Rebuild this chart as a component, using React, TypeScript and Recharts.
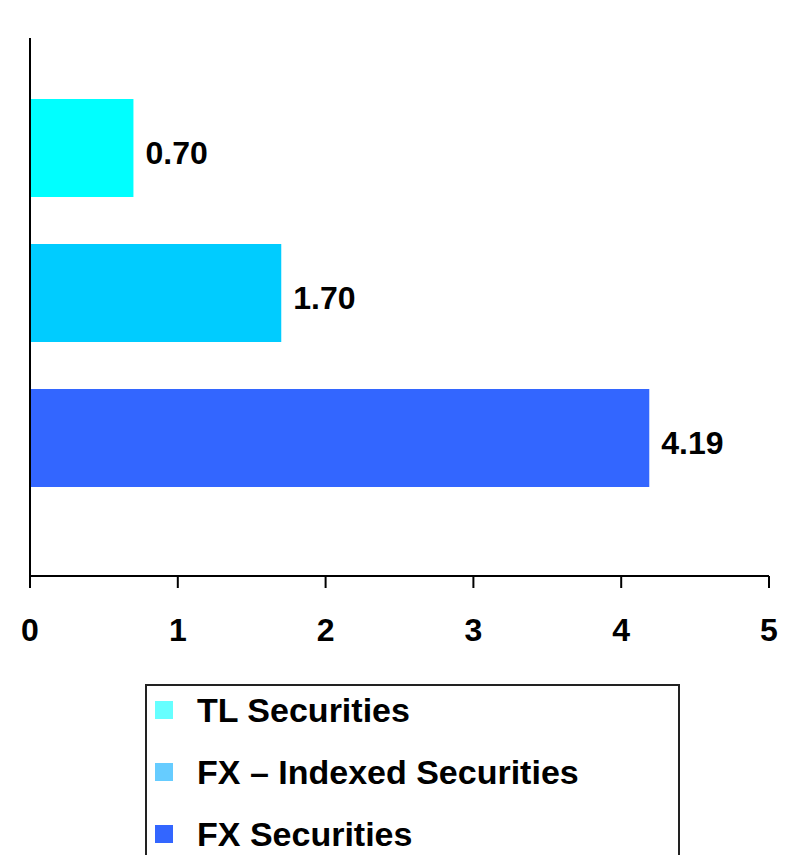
import { BarChart, Bar, XAxis, YAxis, Cell, LabelList } from "recharts";

const categories = ["TL Securities", "FX – Indexed Securities", "FX Securities"];
const values = [0.7, 1.7, 4.19];
const barColors = ["#00FFFF", "#00CCFF", "#3366FF"];
const legendColors = ["#66FFFF", "#66CCFF", "#3366FF"];
const xTicks = [0, 1, 2, 3, 4, 5];

const data = categories.map((name, i) => ({ name, value: values[i] }));

const font = "'Liberation Sans', Arial, sans-serif";

export default function App() {
  return (
    <div style={{ position: "absolute", left: 0, top: 0, width: 796, height: 855, overflow: "hidden", background: "#fff" }}>
      <BarChart
        width={796}
        height={855}
        data={data}
        layout="vertical"
        margin={{ top: 38, right: 27, bottom: 199, left: 0 }}
        barSize={98}
      >
        <XAxis
          type="number"
          domain={[0, 5]}
          ticks={xTicks}
          height={80}
          axisLine={{ stroke: "#000", strokeWidth: 2 }}
          tickLine={{ stroke: "#000", strokeWidth: 2 }}
          tickSize={12}
          tickMargin={30}
          tick={{ fill: "#000", fontSize: 32, fontWeight: "bold", fontFamily: font }}
          interval={0}
        />
        <YAxis
          type="category"
          dataKey="name"
          width={30}
          tick={false}
          tickLine={false}
          axisLine={{ stroke: "#000", strokeWidth: 2 }}
          padding={{ top: 37, bottom: 66 }}
        />
        <Bar dataKey="value" isAnimationActive={false}>
          {data.map((d, i) => (
            <Cell key={d.name} fill={barColors[i]} />
          ))}
          <LabelList
            dataKey="value"
            position="right"
            offset={12}
            dy={5}
            formatter={(v: any) => Number(v).toFixed(2)}
            style={{ fill: "#000", fontSize: 32, fontWeight: "bold", fontFamily: font }}
          />
        </Bar>
      </BarChart>

      <div
        style={{
          position: "absolute",
          left: 145,
          top: 684,
          width: 531,
          height: 220,
          border: "2px solid #222",
          fontFamily: font,
          fontWeight: "bold",
          fontSize: 34,
        }}
      >
        {categories.map((name, i) => (
          <div key={name} style={{ position: "absolute", left: 0, top: -1 + i * 62, height: 50, display: "flex", alignItems: "center" }}>
            <span style={{ display: "inline-block", width: 18, height: 18, marginLeft: 8, background: legendColors[i] }} />
            <span style={{ marginLeft: 24, whiteSpace: "nowrap" }}>{name}</span>
          </div>
        ))}
      </div>
    </div>
  );
}
